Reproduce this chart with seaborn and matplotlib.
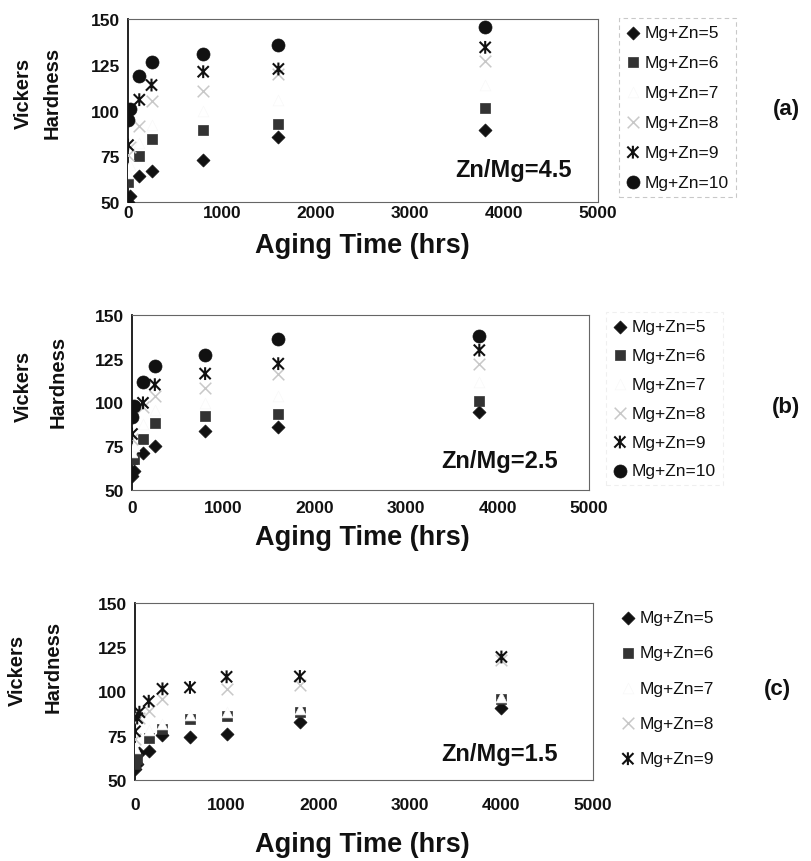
import numpy as np
import pandas as pd
import matplotlib
matplotlib.use("Agg")
import matplotlib.pyplot as plt
from matplotlib.path import Path
import seaborn as sns

sns.set_theme(style="white")
plt.rcParams["font.family"] = ["Liberation Sans", "DejaVu Sans"]

# ---------------- data ----------------
series_names = ["Mg+Zn=5", "Mg+Zn=6", "Mg+Zn=7", "Mg+Zn=8", "Mg+Zn=9", "Mg+Zn=10"]
x_ticks = [0, 1000, 2000, 3000, 4000, 5000]
y_ticks = [50, 75, 100, 125, 150]

# panel (a) Zn/Mg = 4.5
time_a = [0, 24, 120, 250, 800, 1600, 3800]
a_mz5 = [50.2, 53.1, 64.0, 66.8, 73.0, 85.3, 89.5]
a_mz6 = [60.8, None, 75.0, 84.4, 89.3, 92.6, 101.4]
a_mz7 = [66.0, 70.0, 82.0, 92.0, 100.0, 106.0, 114.0]
a_mz8 = [75.5, 80.0, 91.7, 105.4, 110.9, 119.9, 127.2]
a_mz9 = [81.1, None, 105.9, 113.9, 121.2, 122.7, 134.5]
a_mz10 = [94.8, 100.8, 118.7, 126.7, 130.9, 135.8, 145.5]

# panel (b) Zn/Mg = 2.5
time_b = [0, 24, 120, 250, 800, 1600, 3800]
b_mz5 = [58.0, 60.9, 71.0, 75.3, 83.9, 85.8, 94.4]
b_mz6 = [68.0, 68.0, 79.1, 88.3, 92.1, 93.5, 101.1]
b_mz7 = [72.0, 75.0, 88.0, 96.0, 100.0, 104.0, 112.0]
b_mz8 = [79.0, None, 97.3, 104.0, 108.2, 116.5, 122.2]
b_mz9 = [82.0, None, 99.8, 110.2, 116.5, 122.2, 129.9]
b_mz10 = [91.6, 97.9, 111.7, 120.9, 127.0, 136.2, 137.9]

# panel (c) Zn/Mg = 1.5
time_c = [0, 24, 48, 150, 300, 600, 1000, 1800, 4000]
c_mz5 = [56.0, 59.0, 65.5, 66.4, 75.5, 74.5, 76.2, 82.5, 90.4]
c_mz6 = [58.9, 62.0, None, 73.8, 79.0, 84.6, 86.2, 88.5, 95.7]
c_mz7 = [68.0, None, None, 78.5, 81.5, 87.0, 88.5, 90.0, 97.0]
c_mz8 = [73.0, None, 85.0, 89.0, 95.7, None, 101.3, 103.5, 118.0]
c_mz9 = [77.5, 85.0, 88.3, 94.5, 101.5, 102.3, 108.3, 108.5, 119.5]

panel_labels = ["(a)", "(b)", "(c)"]
ratio_labels = ["Zn/Mg=4.5", "Zn/Mg=2.5", "Zn/Mg=1.5"]
ylabel_lines = ["Vickers", "Hardness"]
xlabel_text = "Aging Time (hrs)"

# ---------------- styles ----------------
# Excel-like star marker: an X with a vertical bar through it
star = Path([(-1, -1), (1, 1), (-1, 1), (1, -1), (0, -1.15), (0, 1.15)],
            [Path.MOVETO, Path.LINETO, Path.MOVETO, Path.LINETO, Path.MOVETO, Path.LINETO])

styles = {
    "Mg+Zn=5": dict(marker="D", s=44, color="#111111", edgecolor="#111111", linewidth=0.5),
    "Mg+Zn=6": dict(marker="s", s=60, color="#333333", edgecolor="#333333", linewidth=0.5),
    "Mg+Zn=7": dict(marker="^", s=60, color="white", edgecolor="#f8f8f8", linewidth=0.5),
    "Mg+Zn=8": dict(marker="x", s=70, color="#c8c8c8", linewidth=1.1),
    "Mg+Zn=9": dict(marker=star, s=85, facecolor="none", edgecolor="#111111", linewidth=1.5),
    "Mg+Zn=10": dict(marker="o", s=88, color="#111111", edgecolor="#111111", linewidth=0.5),
}

W, H = 811, 862
fig = plt.figure(figsize=(W / 100, H / 100), dpi=100)
fig.patch.set_facecolor("white")


def fx(px):
    return px / W


def fy(py):
    return 1 - py / H


panels = [
    dict(time=time_a, vals=[a_mz5, a_mz6, a_mz7, a_mz8, a_mz9, a_mz10],
         box=(128, 598, 20, 203), xpad=2,
         ylab=[(23, 93), (52, 93)], xlab_y=246,
         lab_xy=(786, 110), ratio_xy=(513, 171),
         leg_xy=(619, 19), leg_ls=0.85, leg_frame="#bbbbbb"),
    dict(time=time_b, vals=[b_mz5, b_mz6, b_mz7, b_mz8, b_mz9, b_mz10],
         box=(132, 589, 316, 491), xpad=7,
         ylab=[(23, 386), (58, 382)], xlab_y=538,
         lab_xy=(786, 408), ratio_xy=(500, 462),
         leg_xy=(606, 313), leg_ls=0.79, leg_frame="#ececec"),
    dict(time=time_c, vals=[c_mz5, c_mz6, c_mz7, c_mz8, c_mz9],
         box=(135, 593, 604, 781), xpad=12,
         ylab=[(17, 670), (53, 667)], xlab_y=845,
         lab_xy=(777, 690), ratio_xy=(500, 755),
         leg_xy=(614, 604), leg_ls=1.16, leg_frame=None),
]

for i, p in enumerate(panels):
    l, r, t, b = p["box"]
    ax = fig.add_axes([fx(l), fy(b), fx(r - l), (b - t) / H])
    ax.set_facecolor("white")
    names = series_names[: len(p["vals"])]
    for name, vals in zip(names, p["vals"]):
        df = pd.DataFrame({"time": p["time"], "hv": vals}).dropna()
        sns.scatterplot(data=df, x="time", y="hv", ax=ax, label=name, zorder=3,
                        **styles[name])
    ax.set_xlim(0, 5000)
    ax.set_ylim(50, 150)
    ax.set_xticks(x_ticks)
    ax.set_yticks(y_ticks)
    ax.set_xticklabels([str(v) for v in x_ticks], fontsize=12.5, fontweight="bold")
    ax.set_yticklabels([str(v) for v in y_ticks], fontsize=12.5, fontweight="bold")
    ax.tick_params(axis="x", direction="in", length=3, width=0.8, color="#555555",
                   pad=p["xpad"], labelcolor="#111111")
    ax.tick_params(axis="y", length=0, pad=6, labelcolor="#111111")
    ax.set_xlabel("")
    ax.set_ylabel("")
    for side in ["top", "right", "bottom"]:
        ax.spines[side].set_color("#666666")
        ax.spines[side].set_linewidth(0.8)
    ax.spines["left"].set_color("#111111")
    ax.spines["left"].set_linewidth(1.3)
    ax.grid(False)

    # texts
    for line, (lx, ly) in zip(ylabel_lines, p["ylab"]):
        fig.text(fx(lx), fy(ly), line, rotation=90, ha="center", va="center",
                 fontsize=14.5, fontweight="bold", color="#111111")
    fig.text(fx(362), fy(p["xlab_y"]), xlabel_text, ha="center", va="center",
             fontsize=19.5, fontweight="bold", color="#111111")
    fig.text(fx(p["lab_xy"][0]), fy(p["lab_xy"][1]), panel_labels[i], ha="center",
             va="center", fontsize=16, fontweight="bold", color="#111111")
    fig.text(fx(p["ratio_xy"][0]), fy(p["ratio_xy"][1]), ratio_labels[i], ha="center",
             va="center", fontsize=17, fontweight="bold", color="#111111")

    leg = ax.legend(loc="upper left", bbox_to_anchor=(fx(p["leg_xy"][0]), fy(p["leg_xy"][1])),
                    bbox_transform=fig.transFigure, fontsize=12.5, handlelength=0.8,
                    handletextpad=0.3, borderpad=0.4, labelspacing=p["leg_ls"],
                    frameon=p["leg_frame"] is not None, fancybox=False, borderaxespad=0)
    if p["leg_frame"] is not None:
        fr = leg.get_frame()
        fr.set_edgecolor(p["leg_frame"])
        fr.set_linestyle((0, (4, 3)))
        fr.set_linewidth(0.8)
        fr.set_facecolor("white")
    for txt in leg.get_texts():
        txt.set_color("#111111")

fig.savefig("out.png", dpi=100, facecolor="white")
